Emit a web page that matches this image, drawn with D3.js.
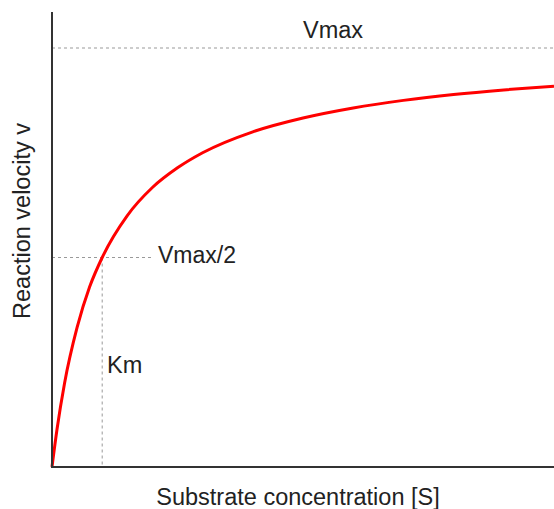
<!DOCTYPE html>
<html><head><meta charset="utf-8">
<script src="https://cdn.jsdelivr.net/npm/d3@7"></script>
<style>body{margin:0;background:#fff}svg{display:block}text{font-family:"Liberation Sans",Arial,sans-serif;fill:#222}</style>
</head><body><svg id="c" width="554" height="509"></svg>
<script>
// Substrate concentration (units of Km) and velocity (fraction of Vmax)
const substrate = [0, 0.1, 0.25, 0.5, 0.75, 1, 1.5, 2, 2.5, 3, 4, 5, 6, 7, 8, 9, 10];
const velocity  = [0, 0.09, 0.2, 0.333, 0.43, 0.5, 0.6, 0.667, 0.714, 0.75, 0.8, 0.833, 0.857, 0.875, 0.889, 0.9, 0.909];
const vmax = 1, km = 1;
const labels = {x: "Substrate concentration [S]", y: "Reaction velocity v", vmax: "Vmax", half: "Vmax/2", km: "Km"};

const svg = d3.select("#c");
const x = d3.scaleLinear().domain([0, 10]).range([52, 554]);
const y = d3.scaleLinear().domain([0, 1]).range([467, 48]);

// dashed guides
const dash = {stroke: "#999", "stroke-width": 1, "stroke-dasharray": "3,3"};
function guide(x1, y1, x2, y2){
  const l = svg.append("line").attr("x1", x1).attr("y1", y1).attr("x2", x2).attr("y2", y2);
  Object.entries(dash).forEach(([k,v]) => l.attr(k, v));
}
guide(x(0), y(vmax), 554, y(vmax));
guide(x(0), y(vmax/2), x(2), y(vmax/2));
guide(x(km), y(vmax/2), x(km), y(0));

// curve
const data = substrate.map((s, i) => [s, velocity[i]]);
svg.append("path").datum(data)
  .attr("fill", "none").attr("stroke", "#f00").attr("stroke-width", 3)
  .attr("d", d3.line().x(d => x(d[0])).y(d => y(d[1])).curve(d3.curveMonotoneX));

// axes
svg.append("line").attr("x1", 52).attr("y1", 12).attr("x2", 52).attr("y2", 468)
  .attr("stroke", "#333").attr("stroke-width", 2);
svg.append("line").attr("x1", 51).attr("y1", 467).attr("x2", 554).attr("y2", 467)
  .attr("stroke", "#333").attr("stroke-width", 2);

// text
const fs = 23.5;
svg.append("text").attr("x", 333).attr("y", 38).attr("text-anchor", "middle").attr("font-size", fs).text(labels.vmax);
svg.append("text").attr("x", 158).attr("y", 263).attr("font-size", 23).text(labels.half);
svg.append("text").attr("x", 107).attr("y", 373).attr("font-size", fs).text(labels.km);
svg.append("text").attr("x", 298).attr("y", 505).attr("text-anchor", "middle").attr("font-size", fs).text(labels.x);
svg.append("text").attr("transform", "translate(30,221) rotate(-90)").attr("text-anchor", "middle").attr("font-size", fs).text(labels.y);
</script></body></html>
